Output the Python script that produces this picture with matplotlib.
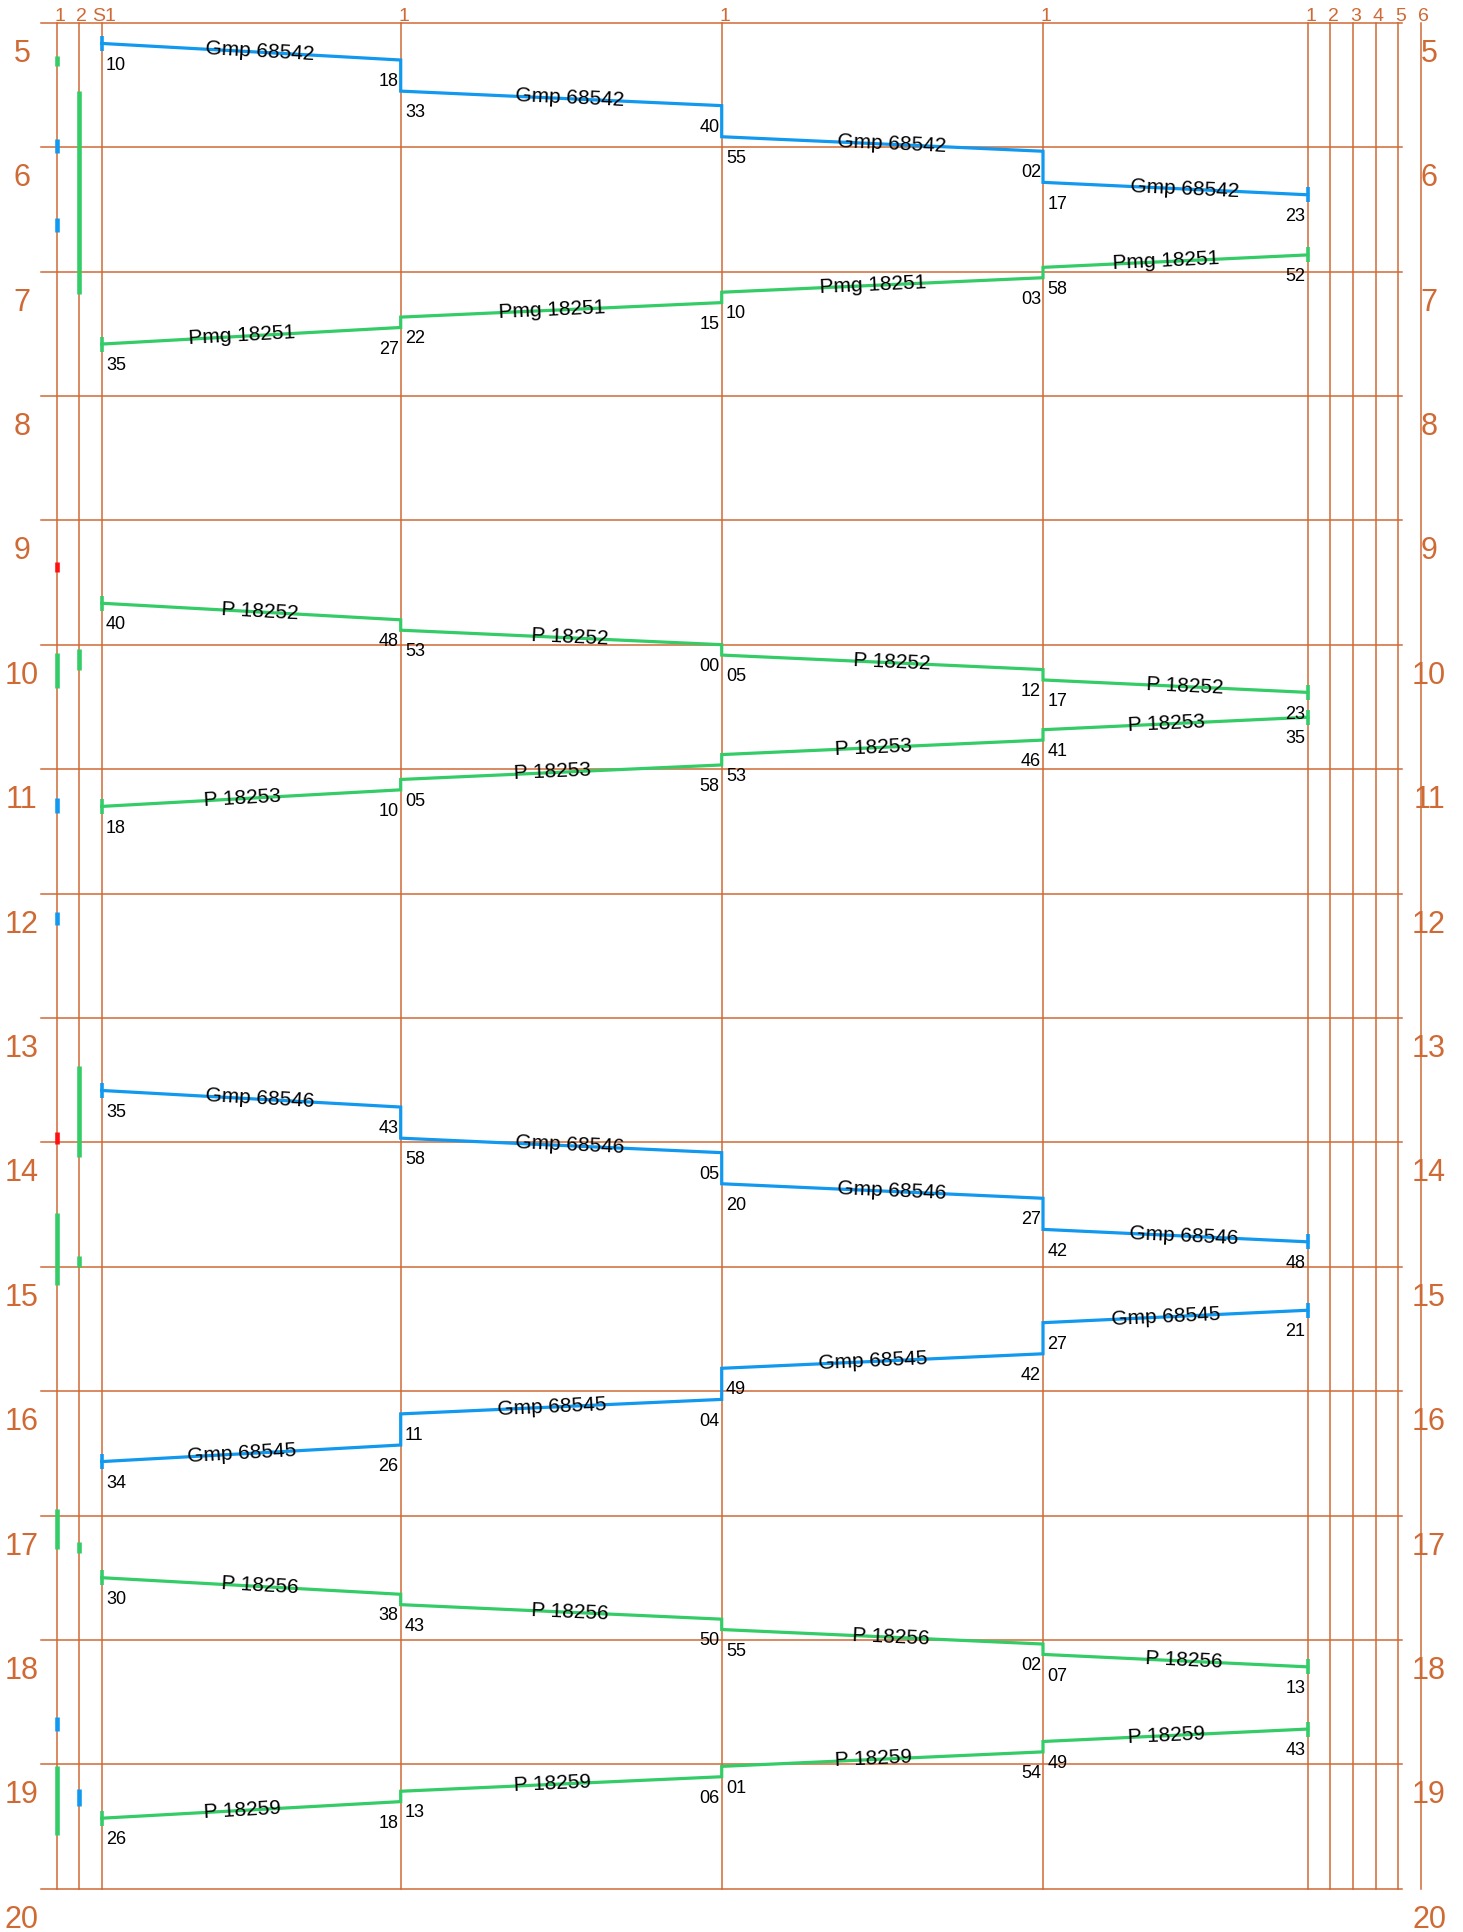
#!/usr/bin/env python3
"""
Marey timetable chart: tracks across the top, hours running downward.
"""

import matplotlib
matplotlib.use('Agg')
import matplotlib.pyplot as plt
import numpy as np

plt.rcParams['font.family'] = ['Liberation Sans', 'DejaVu Sans']

ORANGE = '#d06a35'
COLORS = {'b': '#1199f0', 'g': '#33cc66', 'r': '#ff1111'}

# track positions (x) and their labels at the top
track_x = [56.7, 79, 101.7, 400.7, 721.7, 1043, 1307.7, 1330.3, 1353, 1375.7, 1398.3, 1421]
track_labels = ['1', '2', 'S1', '1', '1', '1', '1', '2', '3', '4', '5', '6']

# stations the trains run through, left to right
line_x = [101.7, 400.7, 721.7, 1043, 1307.7]

hours = list(range(5, 21))

# trains: name, colour, direction, times in order of travel
train_names = ['Gmp 68542', 'Pmg 18251', 'P 18252', 'P 18253',
               'Gmp 68546', 'Gmp 68545', 'P 18256', 'P 18259']
train_colors = ['b', 'g', 'g', 'g', 'b', 'b', 'g', 'g']
train_dirs = ['LR', 'RL', 'LR', 'RL', 'LR', 'RL', 'LR', 'RL']
train_times = [
    ['5:10', '5:18', '5:33', '5:40', '5:55', '6:02', '6:17', '6:23'],
    ['6:52', '6:58', '7:03', '7:10', '7:15', '7:22', '7:27', '7:35'],
    ['9:40', '9:48', '9:53', '10:00', '10:05', '10:12', '10:17', '10:23'],
    ['10:35', '10:41', '10:46', '10:53', '10:58', '11:05', '11:10', '11:18'],
    ['13:35', '13:43', '13:58', '14:05', '14:20', '14:27', '14:42', '14:48'],
    ['15:21', '15:27', '15:42', '15:49', '16:04', '16:11', '16:26', '16:34'],
    ['17:30', '17:38', '17:43', '17:50', '17:55', '18:02', '18:07', '18:13'],
    ['18:43', '18:49', '18:54', '19:01', '19:06', '19:13', '19:18', '19:26'],
]

# track occupation on the left station (track 1 and track 2)
occ_track1 = [('5:16', '5:21', 'g'), ('5:56', '6:03', 'b'), ('6:34', '6:41', 'b'),
              ('9:20', '9:25', 'r'), ('10:04', '10:21', 'g'), ('11:14', '11:21', 'b'),
              ('12:09', '12:15', 'b'), ('13:55', '14:01', 'r'), ('14:34', '15:09', 'g'),
              ('16:57', '17:16', 'g'), ('18:37', '18:44', 'b'), ('19:01', '19:34', 'g')]
occ_track2 = [('5:33', '7:11', 'g'), ('10:02', '10:12', 'g'), ('13:23', '14:07', 'g'),
              ('14:55', '15:00', 'g'), ('17:13', '17:18', 'g'), ('19:12', '19:20', 'b')]


def to_h(s):
    h, m = s.split(':')
    return int(h) + int(m) / 60.0


W, H = 1463, 1932
fig = plt.figure(figsize=(W / 100, H / 100), dpi=100)
ax = fig.add_axes([0, 0, 1, 1])
PX = 124.4  # pixels per hour
t_top = 5 - 22.7 / PX
ax.set_xlim(0, W)
ax.set_ylim(t_top + H / PX, t_top)
ax.axis('off')

# grid: hour lines and track lines
for h in hours:
    ax.plot([41, 1401.7], [h, h], color=ORANGE, lw=1.1, zorder=1)
    ax.text(22, h + 0.315, str(h), color=ORANGE, fontsize=22, ha='center', va='baseline')
    ax.text(1429, h + 0.315, str(h), color=ORANGE, fontsize=22, ha='center', va='baseline')
for x, lab in zip(track_x, track_labels):
    ax.plot([x, x], [hours[0], hours[-1]], color=ORANGE, lw=1.1, zorder=1)
    ax.annotate(lab, (x, hours[0]), xytext=(2, 1.5), textcoords='offset points',
                color=ORANGE, fontsize=14, ha='center', va='baseline')

# occupation bars
for x, occ in [(track_x[0], occ_track1), (track_x[1], occ_track2)]:
    for a, b, c in occ:
        ax.plot([x, x], [to_h(a), to_h(b)], color=COLORS[c], lw=3.3,
                solid_capstyle='butt', zorder=3)

tick = 7.5 / PX
for name, c, d, times in zip(train_names, train_colors, train_dirs, train_times):
    col = COLORS[c]
    xs_st = line_x if d == 'LR' else line_x[::-1]
    ts = [to_h(t) for t in times]
    xs = [xs_st[0]]
    for sx in xs_st[1:-1]:
        xs += [sx, sx]
    xs.append(xs_st[-1])
    ax.plot(xs, ts, color=col, lw=2.3, zorder=4, solid_joinstyle='miter')
    # end ticks
    for sx, t in [(xs[0], ts[0]), (xs[-1], ts[-1])]:
        ax.plot([sx, sx], [t - tick, t + tick], color=col, lw=2.6,
                solid_capstyle='butt', zorder=4)
    # minute labels
    right = (3, 'left')
    left = (-1.5, 'right')
    for i, (sx, t, s) in enumerate(zip(xs, ts, times)):
        out_side = right if d == 'LR' else left
        in_side = left if d == 'LR' else right
        if i == 0:
            dx, ha = out_side
        elif i == len(xs) - 1:
            dx, ha = in_side
        elif i % 2 == 1:
            dx, ha = in_side
        else:
            dx, ha = out_side
        ax.annotate(s.split(':')[1], (sx, t), xytext=(dx, -9.5),
                    textcoords='offset points', fontsize=13, ha=ha, va='top',
                    color='black', zorder=5)
    # train names on running segments
    shift = 6.5 if d == 'LR' else -6.5
    for i in range(0, len(xs), 2):
        x0, x1 = xs[i], xs[i + 1]
        y0, y1 = ts[i], ts[i + 1]
        p0 = ax.transData.transform((x0, y0))
        p1 = ax.transData.transform((x1, y1))
        ang = np.degrees(np.arctan2(p1[1] - p0[1], p1[0] - p0[0]))
        if ang > 90:
            ang -= 180
        elif ang < -90:
            ang += 180
        ax.annotate(name, ((x0 + x1) / 2, (y0 + y1) / 2), xytext=(shift, 0),
                    textcoords='offset points', fontsize=15, ha='center',
                    va='center', rotation=ang, rotation_mode='anchor',
                    color='black', zorder=6)

fig.savefig('out.png', dpi=100, facecolor='white')
